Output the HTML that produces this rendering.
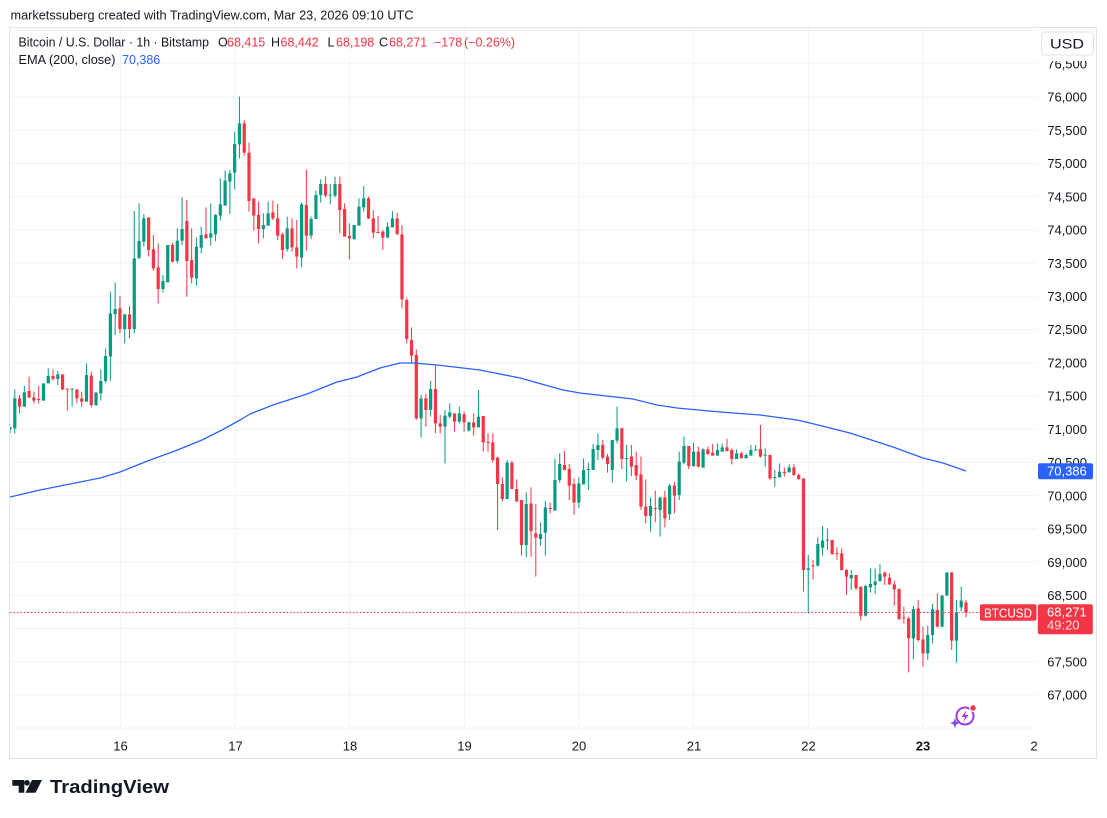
<!DOCTYPE html>
<html><head><meta charset="utf-8"><style>
html,body{margin:0;padding:0;background:#fff;width:1107px;height:818px;overflow:hidden}
svg{display:block;font-family:"Liberation Sans",Arial,sans-serif}
</style></head><body>
<svg width="1107" height="818" viewBox="0 0 1107 818" xmlns="http://www.w3.org/2000/svg">
<defs><clipPath id="pane"><rect x="10" y="28" width="1027" height="702"/></clipPath></defs>
<rect width="1107" height="818" fill="#fff"/>
<text x="10.5" y="19.5" font-size="12.5" fill="#131722" textLength="403" lengthAdjust="spacingAndGlyphs">marketssuberg created with TradingView.com, Mar 23, 2026 09:10 UTC</text>
<!-- grid -->
<g stroke="#f0f3fa" stroke-width="1">
<path d="M10 30.6H1037M10 63.8H1037M10 97H1037M10 130.2H1037M10 163.4H1037M10 196.7H1037M10 229.9H1037M10 263.1H1037M10 296.3H1037M10 329.5H1037M10 362.8H1037M10 396H1037M10 429.2H1037M10 462.4H1037M10 495.6H1037M10 528.8H1037M10 562.1H1037M10 595.3H1037M10 628.5H1037M10 661.7H1037M10 694.9H1037M10 728H1037"/>
<path d="M120.5 28V730M235.5 28V730M350 28V730M464.5 28V730M579 28V730M694 28V730M808.5 28V730M923 28V730"/>
</g>
<rect x="9.5" y="27.5" width="1087" height="731" fill="none" stroke="#e0e3eb"/>
<!-- candles -->
<g clip-path="url(#pane)">
<g transform="translate(8.4,90) scale(4.78,0.33333)">
<path fill="#089981" d="M0 1012h.67V1018h-.67Z M1 925h.67V1015h-.67Z M3 907h.67V950h-.67Z M7 880h.67V932h-.67Z M8 858h.67V880h-.67Z M10 853h.67V867h-.67Z M13 896h.67V899h-.67Z M16 855h.67V935h-.67Z M18 908h.67V945h-.67Z M19 873h.67V910h-.67Z M20 798h.67V873h-.67Z M21 670h.67V800h-.67Z M22 657h.67V672h-.67Z M24 673h.67V717h-.67Z M26 505h.67V717h-.67Z M27 453h.67V505h-.67Z M28 385h.67V455h-.67Z M32 573h.67V597h-.67Z M33 465h.67V577h-.67Z M35 452h.67V513h-.67Z M36 417h.67V452h-.67Z M39 470h.67V565h-.67Z M40 435h.67V473h-.67Z M42 430h.67V443h-.67Z M43 375h.67V433h-.67Z M44 343h.67V377h-.67Z M45 272h.67V347h-.67Z M46 250h.67V275h-.67Z M47 162h.67V248h-.67Z M48 100h.67V163h-.67Z"/>
<path fill="#f23645" d="M2 925h.67V950h-.67Z M4 903h.67V922h-.67Z M5 922h.67V932h-.67Z M6 927h.67V930h-.67Z M9 858h.67V867h-.67Z M11 853h.67V898h-.67Z M12 896h.67V899h-.67Z M14 898h.67V925h-.67Z M15 925h.67V935h-.67Z M17 857h.67V945h-.67Z M23 655h.67V717h-.67Z M25 673h.67V717h-.67Z M29 382h.67V480h-.67Z M30 478h.67V535h-.67Z M31 532h.67V597h-.67Z M34 465h.67V515h-.67Z M37 393h.67V513h-.67Z M38 510h.67V563h-.67Z M41 433h.67V445h-.67Z M49 100h.67V188h-.67Z M50 188h.67V333h-.67Z"/>
</g>
<g transform="translate(10,90) scale(4.78,0.33333)" fill="none" stroke-width="1">
<path stroke="#089981" vector-effect="non-scaling-stroke" d="M0 1010V1030M1 898V1030M3 888V950M7 880V932M8 835V880M10 843V885M13 895V950M16 820V935M18 905V948M19 838V932M20 775V880M21 605V872M22 578V735M24 673V760M26 363V730M27 340V505M28 372V470M32 555V607M33 465V577M35 415V520M36 322V465M39 442V587M40 410V490M42 340V467M43 372V453M44 265V392M45 242V347M46 240V372M47 125V298M48 20V205"/>
<path stroke="#f23645" vector-effect="non-scaling-stroke" d="M2 915V970M4 860V925M5 905V940M6 888V940M9 838V872M11 853V900M12 897V962M14 898V940M15 905V950M17 845V952M23 618V730M25 648V745M29 382V500M30 435V542M31 460V640M34 458V518M37 330V620M38 415V580M41 352V445M49 90V197M50 158V365"/>
</g>
<g transform="translate(8.4,170) scale(4.78,0.33333)">
<path fill="#089981" d="M53 165h.67V177h-.67Z M54 130h.67V167h-.67Z M58 175h.67V237h-.67Z M61 103h.67V263h-.67Z M63 147h.67V197h-.67Z M64 75h.67V147h-.67Z M65 42h.67V75h-.67Z M67 74h.67V77h-.67Z M68 42h.67V77h-.67Z M72 165h.67V207h-.67Z M73 110h.67V167h-.67Z M74 85h.67V112h-.67Z M79 170h.67V203h-.67Z M80 145h.67V172h-.67Z M86 685h.67V745h-.67Z M88 657h.67V720h-.67Z M91 737h.67V770h-.67Z M92 727h.67V740h-.67Z M94 730h.67V755h-.67Z M96 757h.67V782h-.67Z M98 740h.67V772h-.67Z"/>
<path fill="#f23645" d="M51 85h.67V137h-.67Z M52 135h.67V177h-.67Z M55 127h.67V145h-.67Z M56 145h.67V197h-.67Z M57 193h.67V240h-.67Z M59 175h.67V232h-.67Z M60 232h.67V260h-.67Z M62 105h.67V197h-.67Z M66 42h.67V77h-.67Z M69 42h.67V120h-.67Z M70 117h.67V200h-.67Z M71 198h.67V205h-.67Z M75 85h.67V145h-.67Z M76 145h.67V188h-.67Z M77 186h.67V189h-.67Z M78 185h.67V203h-.67Z M81 145h.67V193h-.67Z M82 193h.67V388h-.67Z M83 390h.67V507h-.67Z M84 510h.67V557h-.67Z M85 555h.67V745h-.67Z M87 685h.67V720h-.67Z M89 657h.67V760h-.67Z M90 760h.67V770h-.67Z M93 730h.67V755h-.67Z M95 733h.67V757h-.67Z M97 757h.67V772h-.67Z"/>
</g>
<g transform="translate(10,170) scale(4.78,0.33333)" fill="none">
<path stroke="#089981" vector-effect="non-scaling-stroke" d="M53 130V205M54 95V167M58 140V245M61 98V292M63 140V207M64 62V147M65 28V98M67 42V103M68 20V82M72 165V210M73 85V167M74 48V125M79 157V203M80 123V172M86 675V803M88 633V740M91 720V880M92 700V745M94 710V760M96 755V785M98 660V772"/>
<path stroke="#f23645" vector-effect="non-scaling-stroke" d="M51 85V182M52 95V220M55 92V150M56 102V210M57 188V267M59 145V245M60 150V295M62 0V242M66 20V82M69 20V190M70 100V200M71 160V268M75 80V147M76 120V205M77 138V188M78 180V240M81 128V193M82 165V415M83 383V520M84 472V580M85 538V750M87 672V770M89 583V790M90 735V790M93 730V785M95 725V785M97 730V797"/>
</g>
<g transform="translate(8.4,390) scale(4.78,0.33333)">
<path fill="#089981" d="M104 218h.67V327h-.67Z M108 342h.67V465h-.67Z M111 432h.67V447h-.67Z M112 352h.67V428h-.67Z M114 270h.67V362h-.67Z M115 222h.67V270h-.67Z M119 280h.67V338h-.67Z M120 240h.67V283h-.67Z M121 237h.67V240h-.67Z M122 177h.67V240h-.67Z M123 165h.67V180h-.67Z M126 150h.67V240h-.67Z M127 115h.67V152h-.67Z M129 204h.67V207h-.67Z M134 348h.67V378h-.67Z M136 323h.67V360h-.67Z M138 287h.67V372h-.67Z M140 215h.67V315h-.67Z M141 168h.67V218h-.67Z M143 185h.67V228h-.67Z M145 178h.67V233h-.67Z"/>
<path fill="#f23645" d="M99 78h.67V157h-.67Z M100 156h.67V159h-.67Z M101 157h.67V210h-.67Z M102 203h.67V282h-.67Z M103 282h.67V327h-.67Z M105 218h.67V297h-.67Z M106 297h.67V335h-.67Z M107 330h.67V465h-.67Z M109 340h.67V423h-.67Z M110 430h.67V443h-.67Z M113 354h.67V357h-.67Z M116 225h.67V240h-.67Z M117 237h.67V287h-.67Z M118 282h.67V338h-.67Z M124 165h.67V203h-.67Z M125 200h.67V222h-.67Z M128 115h.67V207h-.67Z M130 200h.67V230h-.67Z M131 225h.67V257h-.67Z M132 253h.67V350h-.67Z M133 350h.67V378h-.67Z M135 354h.67V357h-.67Z M137 322h.67V385h-.67Z M139 287h.67V317h-.67Z M142 168h.67V228h-.67Z M144 185h.67V230h-.67Z M146 178h.67V192h-.67Z"/>
</g>
<g transform="translate(10,390) scale(4.78,0.33333)" fill="none">
<path stroke="#089981" vector-effect="non-scaling-stroke" d="M104 210V327M108 307V502M111 397V467M112 333V497M114 205V362M115 190V278M119 262V355M120 205V283M121 218V300M122 162V240M123 130V210M126 150V278M127 50V160M129 165V275M134 323V425M136 320V440M138 282V390M140 185V330M141 140V222M143 158V230M145 175V233"/>
<path stroke="#f23645" vector-effect="non-scaling-stroke" d="M99 78V185M100 130V185M101 130V218M102 200V420M103 262V335M105 212V297M106 268V335M107 330V497M109 292V500M110 342V560M113 338V370M116 183V240M117 222V330M118 265V375M124 150V208M125 192V248M128 112V237M130 165V258M131 185V270M132 200V360M133 268V400M135 302V397M137 302V412M139 275V370M142 168V237M144 170V232M146 170V195"/>
</g>
<g transform="translate(8.4,420) scale(4.78,0.33333)">
<path fill="#089981" d="M148 90h.67V107h-.67Z M149 82h.67V95h-.67Z M152 100h.67V117h-.67Z M154 105h.67V115h-.67Z M155 90h.67V107h-.67Z M156 89h.67V92h-.67Z M158 104h.67V107h-.67Z M160 171h.67V174h-.67Z M161 155h.67V172h-.67Z M163 142h.67V157h-.67Z M167 445h.67V450h-.67Z M169 372h.67V437h-.67Z M170 362h.67V383h-.67Z M171 359h.67V362h-.67Z M176 465h.67V475h-.67Z M179 498h.67V587h-.67Z M180 492h.67V502h-.67Z M181 485h.67V495h-.67Z M182 462h.67V483h-.67Z M189 567h.67V655h-.67Z M192 645h.67V700h-.67Z M193 568h.67V645h-.67Z M195 527h.67V620h-.67Z M196 457h.67V527h-.67Z M198 577h.67V662h-.67Z M199 542h.67V562h-.67Z"/>
<path fill="#f23645" d="M147 98h.67V107h-.67Z M150 82h.67V93h-.67Z M151 90h.67V117h-.67Z M153 100h.67V115h-.67Z M157 87h.67V110h-.67Z M159 105h.67V175h-.67Z M162 156h.67V159h-.67Z M164 142h.67V165h-.67Z M165 165h.67V177h-.67Z M166 175h.67V450h-.67Z M168 436h.67V439h-.67Z M172 360h.67V402h-.67Z M173 399h.67V402h-.67Z M174 400h.67V450h-.67Z M175 450h.67V470h-.67Z M177 465h.67V505h-.67Z M178 500h.67V587h-.67Z M183 458h.67V470h-.67Z M184 473h.67V493h-.67Z M185 493h.67V508h-.67Z M186 507h.67V597h-.67Z M187 592h.67V595h-.67Z M188 595h.67V655h-.67Z M190 565h.67V660h-.67Z M191 658h.67V700h-.67Z M194 570h.67V620h-.67Z M197 457h.67V662h-.67Z M200 547h.67V578h-.67Z"/>
</g>
<g transform="translate(10,420) scale(4.78,0.33333)" fill="none">
<path stroke="#089981" vector-effect="non-scaling-stroke" d="M148 70V107M149 70V95M152 88V117M154 100V115M155 75V107M156 75V92M158 85V140M160 150V200M161 130V172M163 133V158M167 405V580M169 352V440M170 318V407M171 325V390M176 450V510M179 495V590M180 445V518M181 445V522M182 433V485M189 557V717M192 617V720M193 552V670M195 525V622M196 457V527M198 540V728M199 500V575"/>
<path stroke="#f23645" vector-effect="non-scaling-stroke" d="M147 72V107M150 57V95M151 85V133M153 95V115M157 15V113M159 103V180M162 143V170M164 132V168M165 160V180M166 175V515M168 420V478M172 360V405M173 382V420M174 385V452M175 447V525M177 465V510M178 500V602M183 455V495M184 460V495M185 482V557M186 505V600M187 560V610M188 590V757M190 540V665M191 620V740M194 520V622M197 457V690M200 540V592"/>
</g>
<!-- EMA -->
<polyline fill="none" stroke="#2962ff" stroke-width="1.3" stroke-linejoin="round" points="10,497 40,490 70,484 100,478 120,472 135,466 150,460 175,451 202,440 222,430 240,420 250,414 273,405 307,394 337,382 357,377 380,368 400,363 413,363 437,365 480,370 520,378 563,390 580,393 633,399 657,405 677,408 720,412 760,415 797,420 810,423 850,433 893,447 923,458 943,463 966,471"/>
<!-- price line -->
<line x1="10" y1="612.5" x2="980" y2="612.5" stroke="#f23645" stroke-width="1" stroke-dasharray="1.5 2"/>
</g>
<!-- legend -->
<g font-size="12.5">
<text y="46.7" fill="#131722"><tspan x="18.5" textLength="190.5" lengthAdjust="spacingAndGlyphs">Bitcoin / U.S. Dollar · 1h · Bitstamp</tspan><tspan x="218">O</tspan><tspan x="227" fill="#f23645">68,415</tspan><tspan x="271">H</tspan><tspan x="280.5" fill="#f23645">68,442</tspan><tspan x="327.5">L</tspan><tspan x="336" fill="#f23645">68,198</tspan><tspan x="379">C</tspan><tspan x="389" fill="#f23645">68,271</tspan><tspan x="434" fill="#f23645">−178</tspan><tspan x="464" fill="#f23645">(−0.26%)</tspan></text>
<text y="64" fill="#131722"><tspan x="18.5" textLength="97" lengthAdjust="spacingAndGlyphs">EMA (200, close)</tspan><tspan x="122" fill="#2962ff">70,386</tspan></text>
</g>
<!-- price axis labels -->
<g font-size="13" fill="#131722" text-anchor="end">
<text x="1087" y="68.5">76,500</text>
<text x="1087" y="101.7">76,000</text>
<text x="1087" y="134.9">75,500</text>
<text x="1087" y="168.1">75,000</text>
<text x="1087" y="201.4">74,500</text>
<text x="1087" y="234.6">74,000</text>
<text x="1087" y="267.8">73,500</text>
<text x="1087" y="301">73,000</text>
<text x="1087" y="334.2">72,500</text>
<text x="1087" y="367.5">72,000</text>
<text x="1087" y="400.7">71,500</text>
<text x="1087" y="433.9">71,000</text>
<text x="1087" y="467.1">70,500</text>
<text x="1087" y="500.3">70,000</text>
<text x="1087" y="533.5">69,500</text>
<text x="1087" y="566.8">69,000</text>
<text x="1087" y="600">68,500</text>
<text x="1087" y="666.4">67,500</text>
<text x="1087" y="699.6">67,000</text>
</g>
<!-- USD box -->
<rect x="1040" y="54" width="56" height="7" fill="#fff"/>
<rect x="1041.5" y="32" width="52" height="23" rx="4" fill="#fff" stroke="#e0e3eb"/>
<text x="1067" y="48.3" font-size="13.5" fill="#131722" text-anchor="middle" textLength="34" lengthAdjust="spacingAndGlyphs">USD</text>
<!-- EMA tag -->
<rect x="1038" y="463.3" width="55" height="16" rx="2" fill="#2962ff"/>
<text x="1047" y="475.4" font-size="13" fill="#fff">70,386</text>
<!-- price tags -->
<rect x="980" y="604.3" width="56.5" height="16.5" rx="2" fill="#f23645"/>
<text x="984" y="617.3" font-size="13" fill="#fff" textLength="48" lengthAdjust="spacingAndGlyphs">BTCUSD</text>
<rect x="1037.8" y="604.3" width="55" height="30" rx="2" fill="#f23645"/>
<text x="1047" y="616.7" font-size="13" fill="#fff">68,271</text>
<text x="1047" y="629.7" font-size="13" fill="#fff" fill-opacity="0.82">49:20</text>
<!-- time axis -->
<g font-size="13" fill="#131722" text-anchor="middle">
<text x="120.5" y="750.5">16</text>
<text x="235.5" y="750.5">17</text>
<text x="350" y="750.5">18</text>
<text x="464.5" y="750.5">19</text>
<text x="579" y="750.5">20</text>
<text x="694" y="750.5">21</text>
<text x="808.5" y="750.5">22</text>
<text x="923" y="750.5" font-weight="bold">23</text>
<text x="1034" y="750.5">2</text>
</g>
<!-- purple icon -->
<g transform="translate(965,716)">
<circle r="8.5" fill="none" stroke="#a23be0" stroke-width="2"/>
<path d="M1.5 -6 L-3.5 1 L0 1 L-1.5 6 L3.5 -1 L0 -1 Z" fill="#a23be0"/>
<path d="M-10 2 L-8.6 5.6 L-5 7 L-8.6 8.4 L-10 12 L-11.4 8.4 L-15 7 L-11.4 5.6 Z" fill="#7b4dff"/>
<circle cx="8" cy="-8" r="3.3" fill="#f23645" stroke="#fff" stroke-width="1.2"/>
</g>
<!-- TradingView logo -->
<path d="M12.3 780H24.3V792.7H18.7V785.7H12.3Z" fill="#131722"/>
<circle cx="27" cy="782.8" r="2.8" fill="#131722"/>
<path d="M32 780H42L35.5 792.7H25.5Z" fill="#131722"/>
<text x="50" y="793" font-size="18" font-weight="bold" fill="#131722" textLength="119" lengthAdjust="spacingAndGlyphs">TradingView</text>
</svg>
</body></html>
